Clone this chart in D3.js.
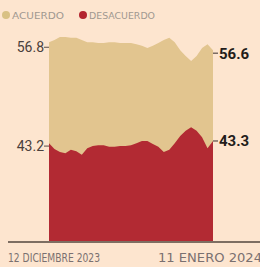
<!DOCTYPE html>
<html><head><meta charset="utf-8">
<script src="https://cdn.jsdelivr.net/npm/d3@7"></script>
<style>html,body{margin:0;padding:0;background:#fde5cf;overflow:hidden}</style>
</head><body><svg id="c" width="260" height="267"></svg>
<script>
const startDate = "2023-12-12";
const endDate = "2024-01-11";
const acuerdo = [57.5,57.8,58.2,58.2,58.1,58.1,57.8,57.5,57.5,57.4,57.4,57.5,57.5,57.4,57.4,57.4,57.2,57.0,56.7,57.0,57.4,57.8,58.1,57.5,56.4,55.6,54.9,55.6,56.7,57.2,56.4];
const desacuerdo = [43.6,42.8,42.4,42.2,42.7,42.5,42.0,42.9,43.2,43.3,43.3,43.1,43.1,43.2,43.2,43.3,43.6,43.9,43.9,43.5,43.1,42.4,42.7,43.6,44.6,45.3,45.8,45.3,44.4,42.9,43.9];
const startLabels = ["56.8","43.2"];
const endLabels = ["56.6","43.3"];
const xLabels = ["12 DICIEMBRE 2023","11 ENERO 2024"];
const legendNames = ["ACUERDO","DESACUERDO"];

const svg = d3.select("#c");
const parse = d3.timeParse("%Y-%m-%d");
const d0 = parse(startDate), d1 = parse(endDate);
const dates = acuerdo.map((_, i) => d3.timeDay.offset(d0, i));
const x = d3.scaleTime().domain([d0, d1]).range([49, 213]);
const y = d3.scaleLinear().domain([30, 60]).range([242, 24]);

const areaA = d3.area().x((d,i)=>x(dates[i])).y0(y(30)).y1(d=>y(d));
svg.append("path").datum(acuerdo).attr("d", areaA).attr("fill", "#e2c58f");
svg.append("path").datum(desacuerdo).attr("d", areaA).attr("fill", "#b22a33");

// baseline
svg.append("line").attr("x1", 8).attr("x2", 260).attr("y1", 242).attr("y2", 242)
  .attr("stroke", "#7d6e62").attr("stroke-width", 2);

// left labels
const leftVals = startLabels.map(Number);
leftVals.forEach((v, i) => {
  const yy = y(v);
  svg.append("line").attr("x1", 44).attr("x2", 49).attr("y1", yy).attr("y2", yy)
    .attr("stroke", "#5a4d48").attr("stroke-width", 1);
  svg.append("text").attr("x", 44).attr("y", yy).attr("dy", "0.36em")
    .attr("text-anchor", "end").attr("font-family", "Roboto, 'Noto Sans', sans-serif")
    .attr("font-size", 14).attr("fill", "#4a403c").text(startLabels[i]);
});

// right labels at last data point
const lastA = acuerdo[acuerdo.length-1], lastD = desacuerdo[desacuerdo.length-1];
[[lastA, endLabels[0], 3], [lastD, endLabels[1], 0]].forEach(([v, t, off]) => {
  const yy = y(v) + off;
  svg.append("line").attr("x1", 213).attr("x2", 218).attr("y1", yy).attr("y2", yy)
    .attr("stroke", "#3a302c").attr("stroke-width", 1);
  svg.append("text").attr("x", 219).attr("y", yy).attr("dy", "0.36em")
    .attr("font-family", "Roboto, 'Noto Sans', sans-serif").attr("font-weight", "bold")
    .attr("font-size", 15).attr("fill", "#231c1a").text(t);
});

// x labels
svg.append("text").attr("x", 8).attr("y", 262)
  .attr("font-family", "'Liberation Sans Narrow', 'DejaVu Sans Condensed', sans-serif")
  .attr("font-size", 12).attr("fill", "#7a7070")
  .attr("textLength", 92).attr("lengthAdjust", "spacingAndGlyphs").text(xLabels[0]);
svg.append("text").attr("x", 158).attr("y", 262)
  .attr("font-family", "'Liberation Sans Narrow', 'DejaVu Sans Condensed', sans-serif")
  .attr("font-size", 12).attr("fill", "#7a7070")
  .attr("textLength", 104).attr("lengthAdjust", "spacingAndGlyphs").text(xLabels[1]);

// legend
const leg = [{c:"#d9c184", x:6, tx:12, w:52}, {c:"#b3242e", x:83, tx:89, w:66}];
leg.forEach((l, i) => {
  svg.append("circle").attr("cx", l.x).attr("cy", 15).attr("r", 4).attr("fill", l.c);
  svg.append("text").attr("x", l.tx).attr("y", 18.5)
    .attr("font-family", "'Liberation Sans Narrow', 'DejaVu Sans Condensed', sans-serif")
    .attr("font-size", 9).attr("fill", "#a09890")
    .attr("textLength", l.w).attr("lengthAdjust", "spacingAndGlyphs").text(legendNames[i]);
});
</script></body></html>
